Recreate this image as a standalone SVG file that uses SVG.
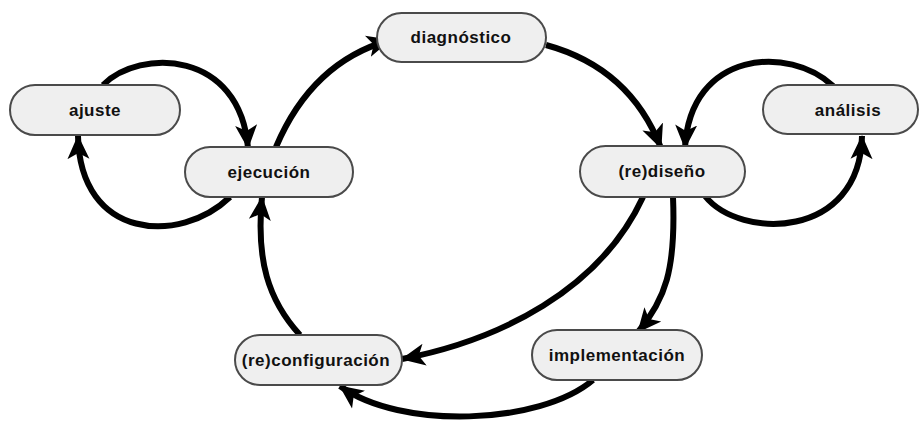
<svg xmlns="http://www.w3.org/2000/svg" width="921" height="432" viewBox="0 0 921 432">
<style>
.node rect{fill:#efefef;stroke:#4a4a4a;stroke-width:2}
.node text{font-family:"Liberation Sans",Arial,sans-serif;font-weight:bold;font-size:17px;letter-spacing:0.5px;fill:#111;text-anchor:middle;dominant-baseline:central}
.edge{fill:none;stroke:#000;stroke-width:6;marker-end:url(#ah)}
</style>
<defs>
<marker id="ah" markerUnits="userSpaceOnUse" markerWidth="24" markerHeight="24" viewBox="0 0 24 24" refX="23" refY="12" orient="auto">
<path d="M0,1 L24,12 L0,23 L6,12 z" fill="#000"/>
</marker>
</defs>
<rect width="921" height="432" fill="#fff"/>
<g id="connectors">
<path class="edge" d="M276,147 Q312,62 390,40"/>
<path class="edge" d="M546,45 Q630,68 661,148"/>
<path class="edge" d="M833,86 C790,45 690,50 685,148"/>
<path class="edge" d="M705,196 C740,240 860,240 862,136"/>
<path class="edge" d="M103,85 C140,48 240,50 248,148"/>
<path class="edge" d="M230,197 C180,245 80,240 78,136"/>
<path class="edge" d="M300,335 C268,300 256,260 262,197"/>
<path class="edge" d="M643,197 C600,290 500,340 402,359"/>
<path class="edge" d="M673,197 C676,270 665,300 638,332"/>
<path class="edge" d="M593,380 C540,425 400,430 340,386"/>
</g>
<g id="ajuste" class="node"><rect x="10" y="85" width="170" height="50" rx="25"/><text x="95" y="110">ajuste</text></g>
<g id="ejecucion" class="node"><rect x="185" y="147" width="168" height="50" rx="25"/><text x="269" y="172">ejecución</text></g>
<g id="diagnostico" class="node"><rect x="377" y="13" width="169" height="49" rx="24.5"/><text x="461" y="37">diagnóstico</text></g>
<g id="rediseno" class="node"><rect x="580" y="146" width="165" height="51" rx="25.5"/><text x="662" y="171">(re)diseño</text></g>
<g id="analisis" class="node"><rect x="763" y="85" width="155" height="49" rx="24.5"/><text x="848" y="110">análisis</text></g>
<g id="reconfiguracion" class="node"><rect x="235" y="335" width="167" height="50" rx="25"/><text x="316" y="360">(re)configuración</text></g>
<g id="implementacion" class="node"><rect x="532" y="330" width="170" height="50" rx="25"/><text x="617" y="355">implementación</text></g>
</svg>
